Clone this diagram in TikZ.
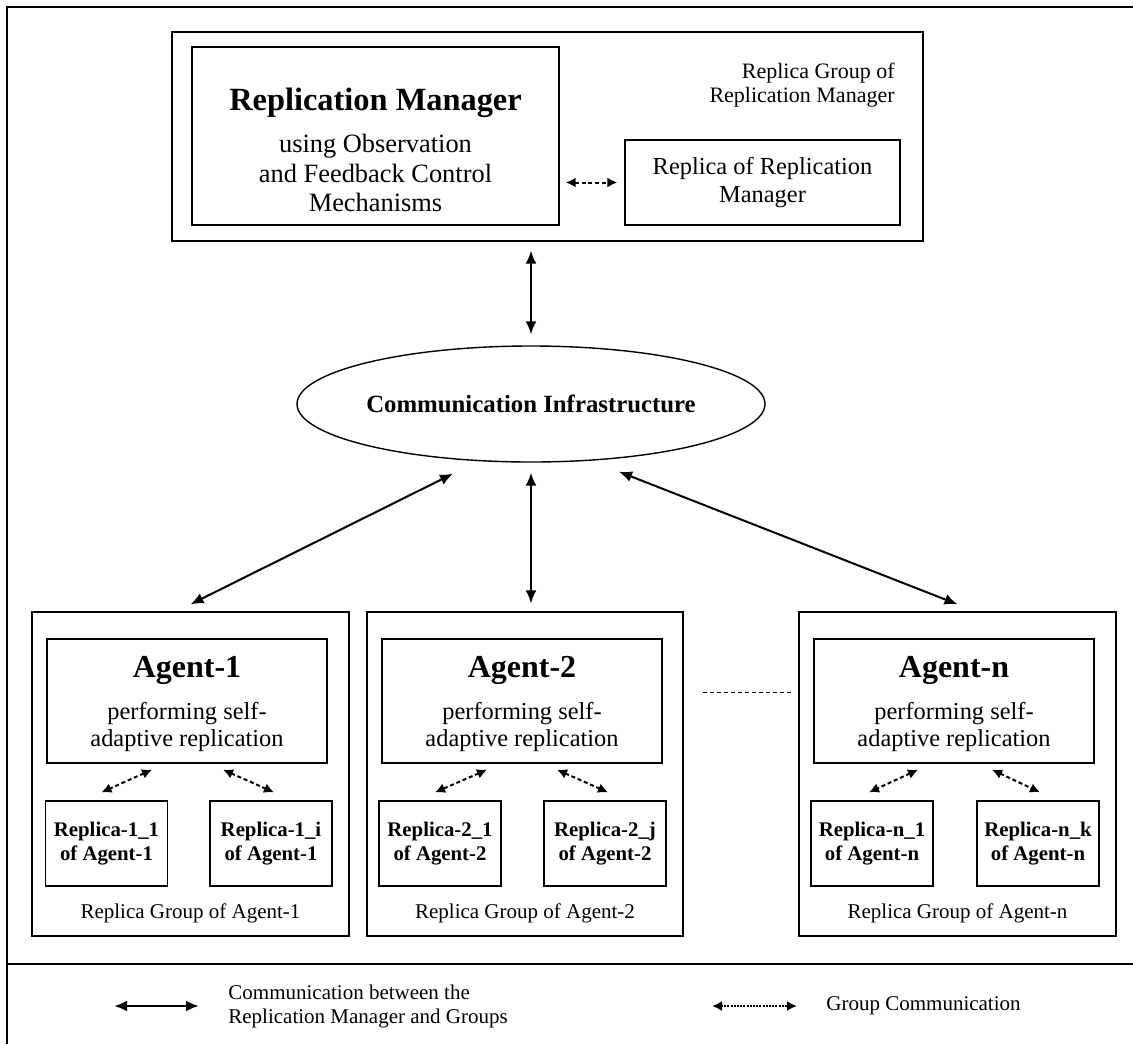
\documentclass[tikz,border=0pt]{standalone}
\usepackage{fontspec}
\setmainfont{Liberation Serif}
\usetikzlibrary{arrows.meta,shapes,positioning}
\newcommand{\fsz}[2]{\fontsize{#1}{#2}\selectfont}

\begin{document}
\begin{tikzpicture}[x=0.5pt,y=-0.5pt]
    \tikzset{box/.style = {shape=rectangle,draw,line width=0.7pt,inner sep=0pt,align=center}}
    \tikzset{txt/.style = {align=center,inner sep=0pt}}
    \tikzset{rep/.style = {box,minimum width=61pt,minimum height=42.5pt,font=\fsz{10.4}{12}\bfseries}}
    \tikzset{edge/.style = {{Latex[length=6.5pt,width=5.5pt]}-{Latex[length=6.5pt,width=5.5pt]},line width=1pt}}
    \tikzset{grp/.style = {{Latex[length=5pt,width=5pt]}-{Latex[length=5pt,width=5pt]},line width=1pt,dash pattern=on 2pt off 1.4pt}}
    \useasboundingbox (0,0) rectangle (1133,1044);
    % frame
    \draw[line width=0.8pt] (1133,7) -- (7,7) -- (7,1044);
    \draw[line width=0.8pt] (7,964) -- (1133,964);
    % replication manager
    \node[box,minimum width=375.5pt,minimum height=104.5pt] (1) at (547.5,136.5) {};
    \node[box,minimum width=183.5pt,minimum height=89pt] (2) at (375.5,136) {};
    \node[box,minimum width=137.5pt,minimum height=42.5pt,font=\fsz{12.2}{14}] (3) at (762.5,182.5) {Replica of Replication\\ Manager};
    \node[txt,font=\fsz{16.2}{19}\bfseries] (4) at (375.5,103) {Replication Manager};
    \node[txt,font=\fsz{13.2}{14.75}] (5) at (375.5,173) {using Observation\\ and Feedback Control\\ Mechanisms};
    \node[txt,align=right,anchor=east,font=\fsz{11}{12}] (6) at (895,85) {Replica Group of\\ Replication Manager};
    \node[ellipse,draw,line width=0.7pt,inner sep=0pt,minimum width=234pt,minimum height=58pt,font=\fsz{12.4}{14}\bfseries] (7) at (531,404) {Communication Infrastructure};
    % agent 1
    \node[box,minimum width=158.5pt,minimum height=162pt] (8) at (190.5,774) {};
    \node[box,minimum width=140pt,minimum height=62pt] (9) at (187,701) {};
    \node[txt,font=\fsz{16}{19}\bfseries] (10) at (187,670) {Agent-1};
    \node[txt,font=\fsz{12.2}{13.5}] (11) at (187,726.5) {performing self-\\ adaptive replication};
    \node[rep] (12) at (106.5,843.5) {Replica-1\_1\\ of Agent-1};
    \node[rep] (13) at (271,843.5) {Replica-1\_i\\ of Agent-1};
    \node[txt,font=\fsz{10.5}{12}] (14) at (190.5,913) {Replica Group of Agent-1};
    % agent 2
    \node[box,minimum width=158pt,minimum height=162pt] (15) at (525,774) {};
    \node[box,minimum width=140pt,minimum height=62pt] (16) at (522,701) {};
    \node[txt,font=\fsz{16}{19}\bfseries] (17) at (522,670) {Agent-2};
    \node[txt,font=\fsz{12.2}{13.5}] (18) at (522,726.5) {performing self-\\ adaptive replication};
    \node[rep] (19) at (440,843.5) {Replica-2\_1\\ of Agent-2};
    \node[rep] (20) at (605,843.5) {Replica-2\_j\\ of Agent-2};
    \node[txt,font=\fsz{10.5}{12}] (21) at (525,913) {Replica Group of Agent-2};
    % agent n
    \node[box,minimum width=158.5pt,minimum height=162pt] (22) at (957.5,774) {};
    \node[box,minimum width=140pt,minimum height=62pt] (23) at (954,701) {};
    \node[txt,font=\fsz{16}{19}\bfseries] (24) at (954,670) {Agent-n};
    \node[txt,font=\fsz{12.2}{13.5}] (25) at (954,726.5) {performing self-\\ adaptive replication};
    \node[rep] (26) at (872,843.5) {Replica-n\_1\\ of Agent-n};
    \node[rep] (27) at (1038,843.5) {Replica-n\_k\\ of Agent-n};
    \node[txt,font=\fsz{10.5}{12}] (28) at (957.5,913) {Replica Group of Agent-n};
    % legend
    \coordinate (29) at (114,1006);
    \coordinate (30) at (199,1006);
    \node[txt,anchor=west,align=left,font=\fsz{10.5}{12}] (31) at (228,1006) {Communication between the\\ Replication Manager and Groups};
    \coordinate (32) at (712,1006);
    \coordinate (33) at (797,1006);
    \node[txt,anchor=west,font=\fsz{10.5}{12}] (34) at (826,1006) {Group Communication};
    % connections
    \draw[grp,shorten <=3pt,shorten >=3.5pt] (2.east |- 3.west) -- (3.west);
    \draw[edge,shorten <=4.5pt,shorten >=5.5pt] (7.north |- 1.south) -- (7.north);
    \draw[edge] ([xshift=-39pt,yshift=-5.5pt]7.south) -- ([yshift=3.5pt]8.north);
    \draw[edge,shorten <=5pt,shorten >=4pt] (7.south) -- (7.south |- 15.north);
    \draw[edge] ([xshift=44pt,yshift=-4.5pt]7.south) -- ([yshift=3.5pt]22.north);
    \draw[grp] ([xshift=-17.5pt,yshift=-3pt]9.south) -- ([xshift=-2.5pt,yshift=4pt]12.north);
    \draw[grp] ([xshift=18pt,yshift=-3pt]9.south) -- ([xshift=1.5pt,yshift=4pt]13.north);
    \draw[grp] ([xshift=-17.5pt,yshift=-3pt]16.south) -- ([xshift=-2.5pt,yshift=4pt]19.north);
    \draw[grp] ([xshift=17.5pt,yshift=-3pt]16.south) -- ([xshift=1.5pt,yshift=4pt]20.north);
    \draw[grp] ([xshift=-18pt,yshift=-3pt]23.south) -- ([xshift=-1.5pt,yshift=4pt]26.north);
    \draw[grp] ([xshift=19pt,yshift=-3pt]23.south) -- ([xshift=1pt,yshift=4pt]27.north);
    \draw[line width=0.4pt,dash pattern=on 2pt off 1.5pt,shorten <=20pt,shorten >=10.5pt] ([yshift=4.5pt]16.east) -- ([yshift=4.5pt]23.west);
    \draw[edge,line width=1.3pt] (29) -- (30);
    \draw[grp,dash pattern=on 1pt off 0.6pt] (32) -- (33);
\end{tikzpicture}
\end{document}
